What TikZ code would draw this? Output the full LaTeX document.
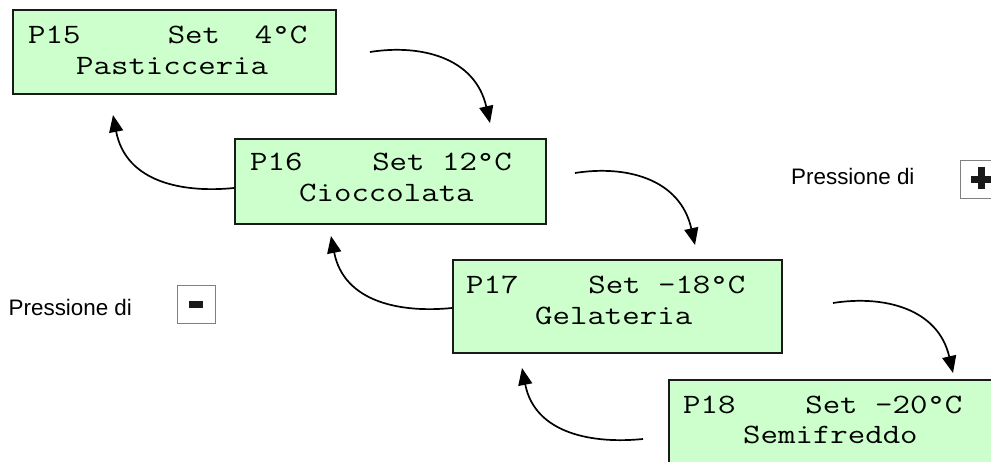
\documentclass[tikz,border=0pt]{standalone}
\usepackage{fontspec}
\setmainfont{Liberation Sans}
\newfontfamily\lcdfont{Latin Modern Mono}[FakeStretch=1.21]
\usetikzlibrary{arrows.meta,calc}
\definecolor{lcdgreen}{HTML}{CCFFCC}
\definecolor{framecol}{HTML}{1A1A1A}
\definecolor{btngray}{HTML}{808080}
\definecolor{glyphcol}{HTML}{1A1A1A}
\tikzset{
  lcd/.style={draw=framecol, line width=2pt, fill=lcdgreen, anchor=north west, inner sep=0pt},
  lcdtext/.style={anchor=base west, inner sep=0pt, font=\lcdfont\fontsize{28}{31}\selectfont},
  presstext/.style={anchor=base west, inner sep=0pt, font=\fontsize{22.4}{26}\selectfont},
  flow/.style={line width=1.7pt, -{Triangle[length=17pt,width=14pt]}},
  button/.style={draw=btngray, line width=1pt, fill=white, minimum size=38pt, inner sep=0pt},
}
\begin{document}
\begin{tikzpicture}[x=1pt,y=-1pt]
\clip (0,0) rectangle (991,461);
\fill[white] (0,0) rectangle (991,461);

% LCD boxes
\node[lcd, minimum width=323pt, minimum height=84pt] (b1) at (12,9) {};
\node[lcd, minimum width=311pt, minimum height=85pt] (b2) at (234,138) {};
\node[lcd, minimum width=329pt, minimum height=93pt] (b3) at (452,259) {};
\node[lcd, minimum width=332pt, minimum height=91pt] (b4) at (668,379) {};

% LCD texts
\node[lcdtext] (t1a) at (28,43) {P15~~~~~Set~~4°C};
\node[lcdtext] (t1b) at (76,74) {Pasticceria};
\node[lcdtext] (t2a) at (250,170) {P16~~~~Set~12°C};
\node[lcdtext] (t2b) at (299,201) {Cioccolata};
\node[lcdtext] (t3a) at (466,293) {P17~~~~Set~-18°C};
\node[lcdtext] (t3b) at (535,324) {Gelateria};
\node[lcdtext] (t4a) at (683,413) {P18~~~~Set~-20°C};
\node[lcdtext] (t4b) at (743,443) {Semifreddo};

% press labels and buttons
\node[presstext] (pplus) at (791,184) {Pressione di};
\node[button] (bplus) at (979,179) {};
\fill[glyphcol] ($(bplus.center)+(-8,-3.5)$) rectangle ($(bplus.center)+(12,3.5)$);
\fill[glyphcol] ($(bplus.center)+(-1.5,-12)$) rectangle ($(bplus.center)+(5.5,10)$);

\node[presstext] (pminus) at (8.5,315) {Pressione di};
\node[button] (bminus) at (196,304) {};
\fill[glyphcol] ($(bminus.center)+(-7,-3.5)$) rectangle ($(bminus.center)+(7,3.5)$);

% free arrow ends
\coordinate (a1s) at (370,52);
\coordinate (a1e) at (490,123);
\coordinate (a2e) at (113,115);
\coordinate (a3s) at (575,173);
\coordinate (a3e) at (695,245);
\coordinate (a4e) at (331,236);
\coordinate (a5s) at (833,303);
\coordinate (a5e) at (953,373);
\coordinate (a6s) at (643,439);
\coordinate (a6e) at (522,368);

% forward (+) arrows
\draw[flow] (a1s) .. controls ($(a1s)+(50,-8)$) and ($(a1s)+(105,5)$) .. (a1e);
\draw[flow] (a3s) .. controls ($(a3s)+(50,-8)$) and ($(a3s)+(105,5)$) .. (a3e);
\draw[flow] (a5s) .. controls ($(a5s)+(50,-8)$) and ($(a5s)+(105,5)$) .. (a5e);

% backward (-) arrows
\draw[flow] ($(b2.west)+(0,6.5)$) .. controls ($(b2.west)+(-50,11.5)$) and ($(b2.west)+(-108,1.5)$) .. (a2e);
\draw[flow] ($(b3.west)+(0,1.5)$) .. controls ($(b3.west)+(-50,6.5)$) and ($(b3.west)+(-108,-3.5)$) .. (a4e);
\draw[flow] (a6s) .. controls ($(a6s)+(-50,5)$) and ($(a6s)+(-108,-5)$) .. (a6e);
\end{tikzpicture}
\end{document}
